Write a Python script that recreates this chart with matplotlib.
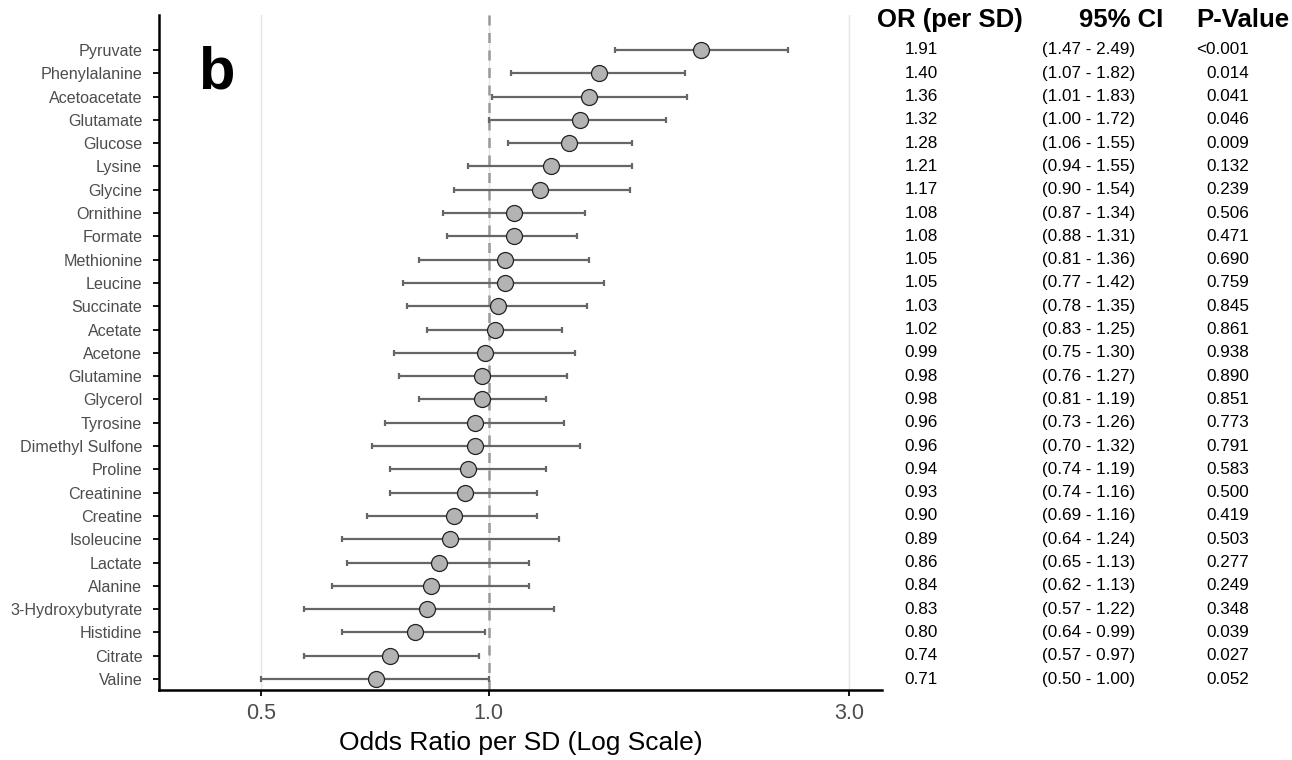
import numpy as np
import matplotlib.pyplot as plt
import matplotlib.transforms as mtransforms

plt.rcParams["font.family"] = ["Liberation Sans", "DejaVu Sans"]

metabolites = [
    "Pyruvate", "Phenylalanine", "Acetoacetate", "Glutamate", "Glucose", "Lysine",
    "Glycine", "Ornithine", "Formate", "Methionine", "Leucine", "Succinate",
    "Acetate", "Acetone", "Glutamine", "Glycerol", "Tyrosine", "Dimethyl Sulfone",
    "Proline", "Creatinine", "Creatine", "Isoleucine", "Lactate", "Alanine",
    "3-Hydroxybutyrate", "Histidine", "Citrate", "Valine",
]
odds_ratio = [1.91, 1.40, 1.36, 1.32, 1.28, 1.21, 1.17, 1.08, 1.08, 1.05, 1.05, 1.03,
              1.02, 0.99, 0.98, 0.98, 0.96, 0.96, 0.94, 0.93, 0.90, 0.89, 0.86, 0.84,
              0.83, 0.80, 0.74, 0.71]
ci_low = [1.47, 1.07, 1.01, 1.00, 1.06, 0.94, 0.90, 0.87, 0.88, 0.81, 0.77, 0.78,
          0.83, 0.75, 0.76, 0.81, 0.73, 0.70, 0.74, 0.74, 0.69, 0.64, 0.65, 0.62,
          0.57, 0.64, 0.57, 0.50]
ci_high = [2.49, 1.82, 1.83, 1.72, 1.55, 1.55, 1.54, 1.34, 1.31, 1.36, 1.42, 1.35,
           1.25, 1.30, 1.27, 1.19, 1.26, 1.32, 1.19, 1.16, 1.16, 1.24, 1.13, 1.13,
           1.22, 0.99, 0.97, 1.00]
p_values = ["<0.001", "0.014", "0.041", "0.046", "0.009", "0.132", "0.239", "0.506",
            "0.471", "0.690", "0.759", "0.845", "0.861", "0.938", "0.890", "0.851",
            "0.773", "0.791", "0.583", "0.500", "0.419", "0.503", "0.277", "0.249",
            "0.348", "0.039", "0.027", "0.052"]

n = len(metabolites)
y = np.arange(n, 0, -1)
orr = np.array(odds_ratio)
lo = np.array(ci_low)
hi = np.array(ci_high)

fig = plt.figure(figsize=(12.92, 7.6), dpi=100)
ax = fig.add_axes([159 / 1292, 1 - 690 / 760, (882 - 159) / 1292, (690 - 15) / 760])

ax.set_xscale("log")
ax.set_xlim(0.366, 3.32)
ax.set_ylim(0.53, n + 1.5)

for v in [0.5, 1.0, 3.0]:
    ax.axvline(v, color="#e5e5e5", lw=1, zorder=0)
ax.axvline(1.0, color="#999999", lw=1.8, ls=(0, (4, 3)), zorder=1)

ax.errorbar(orr, y, xerr=[orr - lo, hi - orr], fmt="none", ecolor="#666666",
            elinewidth=1.6, capsize=2.5, capthick=1.6, zorder=2)
ax.plot(orr, y, "o", ms=11.5, mfc="#b3b3b3", mec="#222222", mew=0.9, zorder=3)

ax.set_xticks([0.5, 1.0, 3.0])
ax.set_xticklabels(["0.5", "1.0", "3.0"])
ax.xaxis.set_minor_locator(plt.NullLocator())
ax.set_yticks(y)
ax.set_yticklabels(metabolites)
ax.tick_params(axis="y", labelsize=11.6, labelcolor="#4d4d4d", length=4.5, width=1.3, pad=7.5)
ax.tick_params(axis="x", labelsize=15.5, labelcolor="#4d4d4d", length=4.5, width=1.3, pad=5)
for s in ["top", "right"]:
    ax.spines[s].set_visible(False)
for s in ["left", "bottom"]:
    ax.spines[s].set_linewidth(1.8)
ax.set_xlabel("Odds Ratio per SD (Log Scale)", fontsize=19, labelpad=5)

ax.text(0.054, 0.955, "b", transform=ax.transAxes, fontsize=43, fontweight="bold",
        va="top", ha="left")

# table on the right
trans = mtransforms.blended_transform_factory(fig.transFigure, ax.transData)
for i in range(n):
    ax.text(921 / 1292, y[i], f"{odds_ratio[i]:.2f}", transform=trans, ha="center",
            va="center", fontsize=12.3, clip_on=False)
    ax.text(1089 / 1292, y[i], f"({ci_low[i]:.2f} - {ci_high[i]:.2f})", transform=trans,
            ha="center", va="center", fontsize=12.3, clip_on=False)
    ax.text(1249 / 1292, y[i], p_values[i], transform=trans, ha="right",
            va="center", fontsize=12.3, clip_on=False)

hy = n + 1.3
ax.text(950 / 1292, hy, "OR (per SD)", transform=trans, ha="center", va="center",
        fontsize=18.5, fontweight="bold", clip_on=False)
ax.text(1163 / 1292, hy, "95% CI", transform=trans, ha="right", va="center",
        fontsize=18.5, fontweight="bold", clip_on=False)
ax.text(1289 / 1292, hy, "P-Value", transform=trans, ha="right", va="center",
        fontsize=18.5, fontweight="bold", clip_on=False)

fig.savefig("out.png", dpi=100)
